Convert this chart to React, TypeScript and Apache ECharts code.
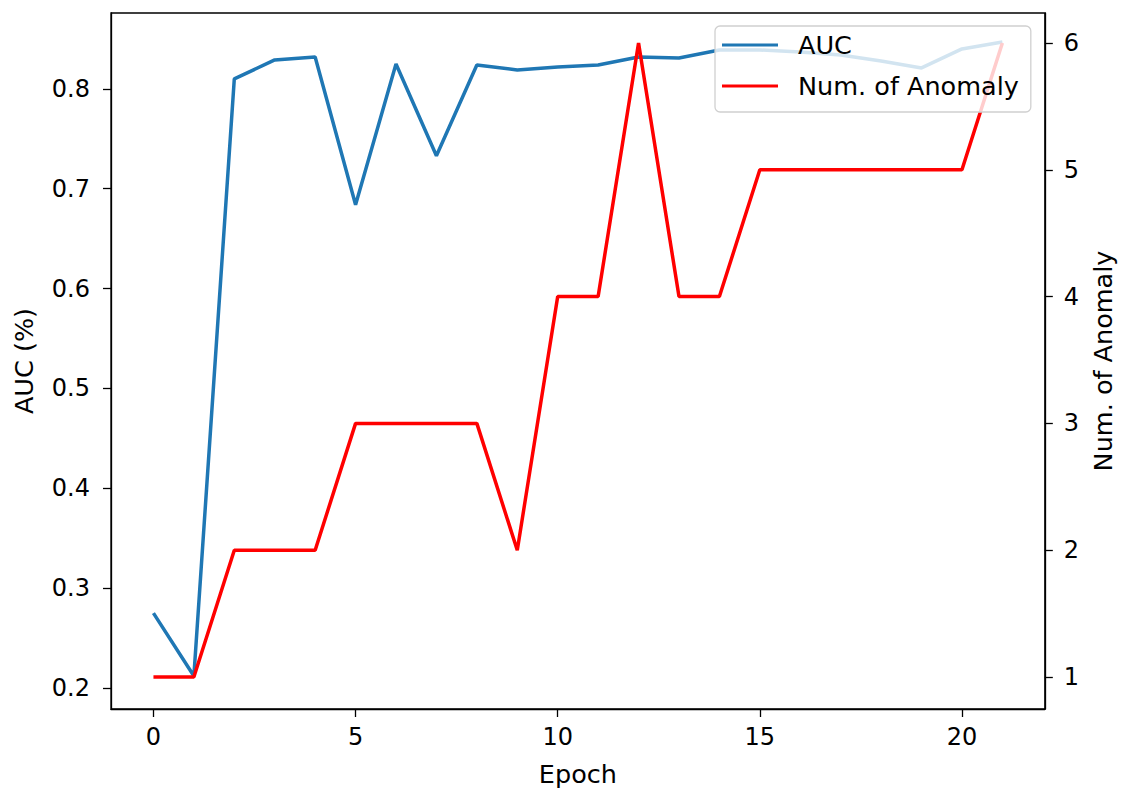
import React, { useEffect, useRef } from "react";
import * as echarts from "echarts";

const epochs = [0, 1, 2, 3, 4, 5, 6, 7, 8, 9, 10, 11, 12, 13, 14, 15, 16, 17, 18, 19, 20, 21];
const aucValues = [0.275, 0.212, 0.81, 0.829, 0.832, 0.684, 0.825, 0.733, 0.824, 0.819, 0.822, 0.824, 0.832, 0.831, 0.839, 0.839, 0.837, 0.834, 0.828, 0.821, 0.84, 0.847];
const anomalyValues = [1, 1, 2, 2, 2, 3, 3, 3, 3, 2, 4, 4, 6, 4, 4, 5, 5, 5, 5, 5, 5, 6];
const xTicks = [0, 5, 10, 15, 20];
const leftTicks = [0.2, 0.3, 0.4, 0.5, 0.6, 0.7, 0.8];
const rightTicks = [1, 2, 3, 4, 5, 6];

const FONT = "DejaVu Sans";
const FS = 24;
const NAME_FS = 25.5;

export default function App() {
  const ref = useRef<HTMLDivElement>(null);
  useEffect(() => {
    if (!ref.current) return;
    const chart = echarts.init(ref.current, null, { renderer: "svg" });
    const axisCommon = {
      axisLine: { show: true, onZero: false, lineStyle: { color: "#000", width: 1.3 } },
      axisTick: { show: true, length: 8, lineStyle: { color: "#000", width: 1.3 } },
      splitLine: { show: false },
      nameTextStyle: { fontFamily: FONT, fontSize: NAME_FS, color: "#000" },
    };
    chart.setOption({
      animation: false,
      backgroundColor: "#fff",
      textStyle: { fontFamily: FONT },
      grid: { left: 111, right: 75, top: 13, bottom: 82, show: true, borderColor: "#000", borderWidth: 1.3 },
      legend: {
        orient: "vertical",
        left: 715,
        top: 26,
        width: 321,
        padding: [4, 12, 11, 7],
        itemWidth: 56,
        itemHeight: 3,
        itemGap: 11,
        icon: "rect",
        backgroundColor: "rgba(255,255,255,0.8)",
        borderColor: "#d0d0d0",
        borderWidth: 1.3,
        borderRadius: 5,
        textStyle: { fontFamily: FONT, fontSize: NAME_FS, color: "#000", lineHeight: 30, padding: [0, 0, 0, 15] },
        data: ["AUC", "Num. of Anomaly"],
        z: 10,
      },
      xAxis: {
        type: "value",
        min: -1.05,
        max: 22.05,
        name: "Epoch",
        nameLocation: "middle",
        nameGap: 52,
        ...axisCommon,
        axisTick: { ...axisCommon.axisTick, customValues: xTicks },
        axisLabel: { customValues: xTicks, fontFamily: FONT, fontSize: FS, color: "#000", margin: 16 },
      },
      yAxis: [
        {
          type: "value",
          min: 0.179,
          max: 0.876,
          name: "AUC (%)",
          nameLocation: "middle",
          nameGap: 74,
          position: "left",
          ...axisCommon,
          axisTick: { ...axisCommon.axisTick, customValues: leftTicks },
          axisLabel: {
            customValues: leftTicks,
            fontFamily: FONT,
            fontSize: FS,
            color: "#000",
            margin: 21,
            formatter: (v: number) => v.toFixed(1),
          },
        },
        {
          type: "value",
          min: 0.748,
          max: 6.236,
          name: "Num. of Anomaly",
          nameLocation: "middle",
          nameGap: 41,
          position: "right",
          ...axisCommon,
          axisTick: { ...axisCommon.axisTick, customValues: rightTicks },
          axisLabel: { customValues: rightTicks, fontFamily: FONT, fontSize: FS, color: "#000", margin: 19 },
        },
      ],
      series: [
        {
          name: "AUC",
          type: "line",
          yAxisIndex: 0,
          data: epochs.map((e, i) => [e, aucValues[i]]),
          showSymbol: false,
          symbol: "none",
          color: "#1f77b4",
          lineStyle: { color: "#1f77b4", width: 3.5 },
          z: 2,
        },
        {
          name: "Num. of Anomaly",
          type: "line",
          yAxisIndex: 1,
          data: epochs.map((e, i) => [e, anomalyValues[i]]),
          showSymbol: false,
          symbol: "none",
          color: "#ff0000",
          lineStyle: { color: "#ff0000", width: 3.5 },
          z: 3,
        },
      ],
    });
    return () => chart.dispose();
  }, []);
  return <div ref={ref} style={{ position: "absolute", left: 0, top: 0, width: 1124, height: 792 }} />;
}
